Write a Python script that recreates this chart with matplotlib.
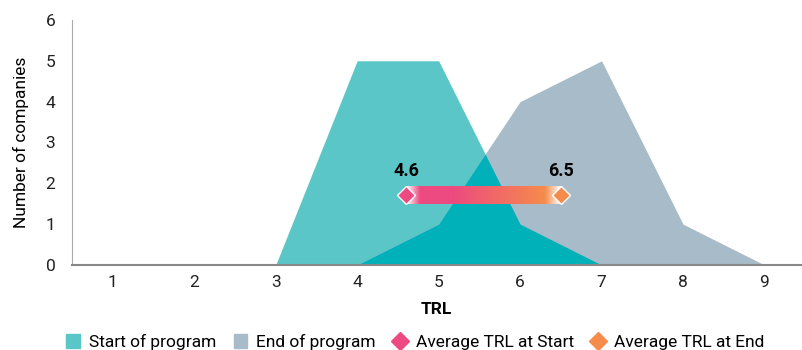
import numpy as np
import matplotlib.pyplot as plt
from matplotlib.patches import Patch
from matplotlib.lines import Line2D
from matplotlib.colors import to_rgb

plt.rcParams['font.family'] = ['Roboto', 'DejaVu Sans']

trl = [1, 2, 3, 4, 5, 6, 7, 8, 9]
start_counts = [0, 0, 0, 5, 5, 1, 0, 0, 0]
end_counts = [0, 0, 0, 0, 1, 4, 5, 1, 0]
avg_start = 4.6
avg_end = 6.5
avg_y = 1.72

c_start = "#5bc6c8"
c_end = "#a7bcc8"
c_overlap = "#00b1ba"
c_pink = "#ec4a80"
c_orange = "#f68c4c"

fig = plt.figure(figsize=(8.03, 3.5), dpi=100)
ax = fig.add_axes([0.0897, 0.243, 0.908, 0.7])

ax.fill_between(trl, start_counts, color=c_start, lw=0)
ax.fill_between(trl, end_counts, color=c_end, lw=0)
# overlap of the two areas
xs = np.linspace(trl[0], trl[-1], 1601)
ov = np.minimum(np.interp(xs, trl, start_counts), np.interp(xs, trl, end_counts))
ax.fill_between(xs, ov, color=c_overlap, lw=0)

# gradient bar between the two averages
n = 300
f = np.linspace(0, 1, n)
stops = [0, 0.09, 0.3, 0.9, 1.0]
cols = [(1, 1, 1), to_rgb(c_pink), to_rgb(c_pink), to_rgb(c_orange), (1, 1, 1)]
grad = np.zeros((1, n, 3))
for k in range(3):
    grad[0, :, k] = np.interp(f, stops, [c[k] for c in cols])
ax.imshow(grad, extent=[avg_start, avg_end, avg_y - 0.22, avg_y + 0.22],
          aspect='auto', zorder=3, interpolation='bilinear')
ax.plot([avg_start], [avg_y], marker='D', ms=9, color=c_pink, mec='white', mew=1, zorder=4)
ax.plot([avg_end], [avg_y], marker='D', ms=9, color=c_orange, mec='white', mew=1, zorder=4)
ax.text(avg_start, avg_y + 0.36, f"{avg_start}", ha='center', va='bottom',
        fontsize=13, fontweight='bold', zorder=5)
ax.text(avg_end, avg_y + 0.36, f"{avg_end}", ha='center', va='bottom',
        fontsize=13, fontweight='bold', zorder=5)

ax.set_xlim(0.5, 9.45)
ax.set_ylim(0, 6)
ax.set_xticks(trl)
ax.set_yticks(range(7))
ax.tick_params(length=0, labelsize=12.5, colors='#222222', pad=7)
ax.tick_params(axis='y', pad=12)
for s in ['top', 'right']:
    ax.spines[s].set_visible(False)
ax.spines['left'].set_color('#aaaaaa')
ax.spines['bottom'].set_color('#888888')
ax.spines['bottom'].set_linewidth(1.5)
ax.set_xlabel("TRL", fontsize=12.5, fontweight='bold', labelpad=9)
ax.set_ylabel("Number of companies", fontsize=12.5, labelpad=12)

handles = [
    Patch(color=c_start, label="Start of program"),
    Patch(color=c_end, label="End of program"),
    Line2D([], [], marker='D', ls='', color=c_pink, ms=9, label="Average TRL at Start"),
    Line2D([], [], marker='D', ls='', color=c_orange, ms=9, label="Average TRL at End"),
]
fig.legend(handles=handles, loc='lower center', bbox_to_anchor=(0.517, -0.045), ncol=4,
           frameon=False, fontsize=12.5, handlelength=0.8, handleheight=0.8,
           handletextpad=0.5, columnspacing=1.0)

fig.savefig("out.png", dpi=100)
